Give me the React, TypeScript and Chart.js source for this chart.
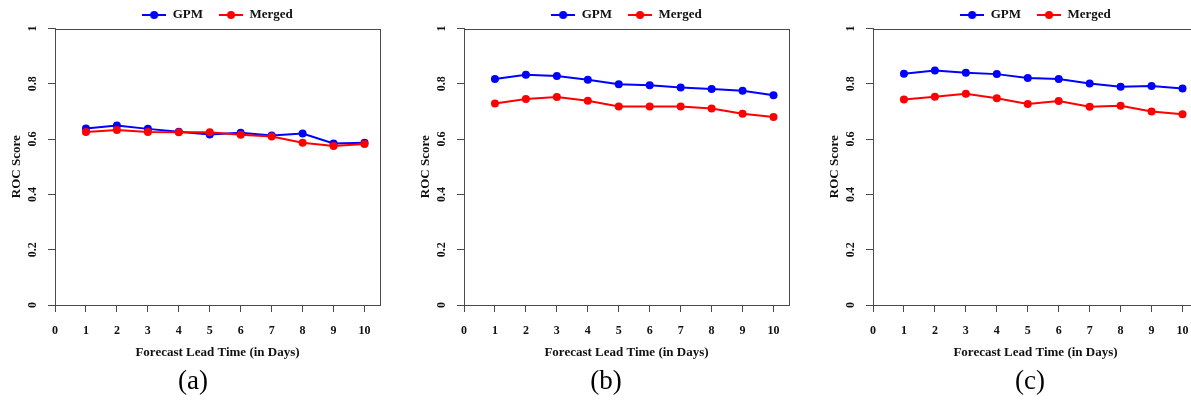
import React, { useEffect, useRef } from 'react';
import { Chart, registerables } from 'chart.js';

Chart.register(...registerables);

// ---------- data ----------
const leadDays = [1, 2, 3, 4, 5, 6, 7, 8, 9, 10];
const seriesNames = ['GPM', 'Merged'];
const panelLabels = ['(a)', '(b)', '(c)'];
const xAxisTitle = 'Forecast Lead Time (in Days)';
const yAxisTitle = 'ROC Score';

const gpmA = [0.638, 0.649, 0.637, 0.627, 0.617, 0.623, 0.613, 0.620, 0.584, 0.587];
const mergedA = [0.626, 0.633, 0.626, 0.625, 0.625, 0.616, 0.609, 0.587, 0.575, 0.582];

const gpmB = [0.817, 0.833, 0.828, 0.815, 0.798, 0.795, 0.787, 0.781, 0.775, 0.759];
const mergedB = [0.729, 0.745, 0.752, 0.739, 0.718, 0.718, 0.718, 0.711, 0.692, 0.680];

const gpmC = [0.836, 0.848, 0.840, 0.835, 0.821, 0.817, 0.801, 0.789, 0.792, 0.783];
const mergedC = [0.743, 0.753, 0.764, 0.748, 0.727, 0.738, 0.717, 0.721, 0.700, 0.690];

const xMin = 0;
const xMax = 10.5;
const yMin = 0;
const yMax = 1;
const yStep = 0.2;

// ---------- styles ----------
const FONT = "'Liberation Serif', 'Times New Roman', serif";
const AXIS_COLOR = '#4a4a4a';
const TEXT_COLOR = '#111111';
const BLUE = '#0000ff';
const RED = '#ff0000';

function legendIcon(color: string): HTMLCanvasElement {
  const c = document.createElement('canvas');
  c.width = 24;
  c.height = 10;
  const g = c.getContext('2d')!;
  g.strokeStyle = color;
  g.lineWidth = 2;
  g.beginPath();
  g.moveTo(0, 5);
  g.lineTo(24, 5);
  g.stroke();
  g.fillStyle = color;
  g.beginPath();
  g.arc(12, 5, 4, 0, Math.PI * 2);
  g.fill();
  return c;
}

const frameAndYLabels = {
  id: 'frameAndYLabels',
  afterDraw(chart: any) {
    const { ctx, chartArea } = chart;
    const yScale = chart.scales.y;
    ctx.save();
    ctx.strokeStyle = AXIS_COLOR;
    ctx.lineWidth = 1;
    const l = Math.round(chartArea.left) + 0.5;
    const t = Math.round(chartArea.top) + 0.5;
    const r = Math.round(chartArea.right) + 0.5;
    const b = Math.round(chartArea.bottom) + 0.5;
    ctx.strokeRect(l, t, r - l, b - t);
    ctx.font = `bold 12px ${FONT}`;
    ctx.fillStyle = TEXT_COLOR;
    ctx.textAlign = 'center';
    ctx.textBaseline = 'middle';
    yScale.ticks.forEach((tk: any) => {
      const py = yScale.getPixelForValue(tk.value);
      ctx.save();
      ctx.translate(chartArea.left - 22, py);
      ctx.rotate(-Math.PI / 2);
      ctx.fillText(String(tk.label), 0, 0);
      ctx.restore();
    });
    ctx.restore();
  },
};

type PanelProps = {
  left: number;
  gpm: number[];
  merged: number[];
  caption: string;
  captionCenter: number;
};

function Panel({ left, gpm, merged, caption, captionCenter }: PanelProps) {
  const ref = useRef<HTMLCanvasElement>(null);

  useEffect(() => {
    if (!ref.current) return;
    const icons = [legendIcon(BLUE), legendIcon(RED)];
    const chart = new Chart(ref.current, {
      type: 'line',
      data: {
        datasets: [
          {
            label: seriesNames[0],
            data: leadDays.map((d, i) => ({ x: d, y: gpm[i] })),
            borderColor: BLUE,
            backgroundColor: BLUE,
            pointBackgroundColor: BLUE,
            pointBorderColor: BLUE,
            pointStyle: 'circle',
            pointRadius: 4,
            pointBorderWidth: 0,
            borderWidth: 2,
            order: 2,
          },
          {
            label: seriesNames[1],
            data: leadDays.map((d, i) => ({ x: d, y: merged[i] })),
            borderColor: RED,
            backgroundColor: RED,
            pointBackgroundColor: RED,
            pointBorderColor: RED,
            pointStyle: 'circle',
            pointRadius: 4,
            pointBorderWidth: 0,
            borderWidth: 2,
            order: 1,
          },
        ],
      },
      options: {
        animation: false,
        responsive: false,
        events: [],
        layout: { padding: { top: -7.5, right: 20, bottom: 41, left: 0 } },
        elements: { line: { tension: 0 } },
        plugins: {
          tooltip: { enabled: false },
          legend: {
            display: true,
            position: 'top',
            fullSize: false,
            maxHeight: 36,
            labels: {
              usePointStyle: true,
              pointStyleWidth: 24,
              padding: 16,
              color: TEXT_COLOR,
              font: { family: FONT, size: 13, weight: 'bold' },
              sort: (a: any, b: any) => a.datasetIndex - b.datasetIndex,
              generateLabels: (ch: any) => {
                const items = Chart.defaults.plugins.legend.labels.generateLabels(ch);
                return items.map((it: any) => ({ ...it, pointStyle: icons[it.datasetIndex] }));
              },
            },
          },
        },
        scales: {
          x: {
            type: 'linear',
            min: xMin,
            max: xMax,
            afterFit: (s: any) => {
              s.height = 55;
            },
            ticks: {
              stepSize: 1,
              includeBounds: false,
              padding: 12,
              maxRotation: 0,
              color: TEXT_COLOR,
              font: { family: FONT, size: 12, weight: 'bold' },
            },
            grid: {
              drawOnChartArea: false,
              drawTicks: true,
              tickLength: 7,
              color: AXIS_COLOR,
            },
            border: { display: true, color: AXIS_COLOR, width: 1 },
            title: {
              display: true,
              text: xAxisTitle,
              color: TEXT_COLOR,
              padding: { top: 0, bottom: 0 },
              font: { family: FONT, size: 13, weight: 'bold' },
            },
          },
          y: {
            type: 'linear',
            min: yMin,
            max: yMax,
            afterFit: (s: any) => {
              s.width = 55;
            },
            ticks: {
              stepSize: yStep,
              display: false,
              callback: (v: any) => String(Math.round(Number(v) * 10) / 10),
              font: { family: FONT, size: 12, weight: 'bold' },
            },
            grid: {
              drawOnChartArea: false,
              drawTicks: true,
              tickLength: 7,
              color: AXIS_COLOR,
            },
            border: { display: true, color: AXIS_COLOR, width: 1 },
            title: {
              display: true,
              text: yAxisTitle,
              color: TEXT_COLOR,
              padding: { top: 9, bottom: 0 },
              font: { family: FONT, size: 13, weight: 'bold' },
            },
          },
        },
      },
      plugins: [frameAndYLabels],
    });
    return () => chart.destroy();
  }, [gpm, merged]);

  return (
    <>
      <canvas
        ref={ref}
        width={400}
        height={401}
        style={{ position: 'absolute', left, top: 0, width: 400, height: 401 }}
      />
      <div
        style={{
          position: 'absolute',
          left: captionCenter - 50,
          width: 100,
          top: 367,
          textAlign: 'center',
          fontFamily: FONT,
          fontSize: 27,
          lineHeight: 1,
          color: '#000',
        }}
      >
        {caption}
      </div>
    </>
  );
}

export default function App() {
  return (
    <div
      style={{
        position: 'absolute',
        left: 0,
        top: 0,
        width: 1191,
        height: 401,
        overflow: 'hidden',
        background: '#fff',
      }}
    >
      <Panel left={0} gpm={gpmA} merged={mergedA} caption={panelLabels[0]} captionCenter={193} />
      <Panel left={409} gpm={gpmB} merged={mergedB} caption={panelLabels[1]} captionCenter={606} />
      <Panel left={818} gpm={gpmC} merged={mergedC} caption={panelLabels[2]} captionCenter={1030} />
    </div>
  );
}
